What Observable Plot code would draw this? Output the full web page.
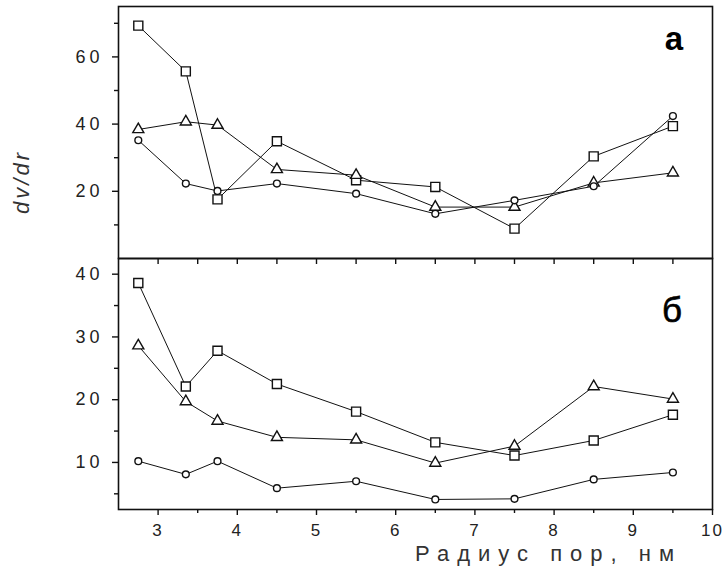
<!DOCTYPE html>
<html>
<head>
<meta charset="utf-8">
<script src="https://cdn.jsdelivr.net/npm/d3@7"></script>
<script src="https://cdn.jsdelivr.net/npm/@observablehq/plot@0.6"></script>
<style>
  html, body { margin: 0; padding: 0; background: #fff; overflow: hidden; }
  #wrap { position: relative; width: 723px; height: 577px; }
  #wrap svg { position: absolute; left: 0; }
</style>
</head>
<body>
<div id="wrap"></div>
<script>
// ---- data ----
const radius = [2.75, 3.35, 3.75, 4.5, 5.5, 6.5, 7.5, 8.5, 9.5];

const topSquares   = [69.3, 55.7, 17.6, 34.9, 23.3, 21.3, 8.9, 30.4, 39.4];
const topTriangles = [38.4, 40.7, 39.7, 26.5, 24.8, 15.3, 15.3, 22.5, 25.5];
const topCircles   = [35.2, 22.3, 20.1, 22.3, 19.3, 13.3, 17.3, 21.5, 42.4];

const botSquares   = [38.6, 22.1, 27.8, 22.5, 18.1, 13.2, 11.1, 13.5, 17.6];
const botTriangles = [28.6, 19.7, 16.6, 14.0, 13.6, 9.9, 12.6, 22.1, 20.1];
const botCircles   = [10.2, 8.1, 10.2, 5.9, 7.0, 4.1, 4.2, 7.3, 8.4];

const xMajorTicks = [3, 4, 5, 6, 7, 8, 9, 10];
const xMinorTicks = [3.5, 4.5, 5.5, 6.5, 7.5, 8.5, 9.5];
const xAllTicks = [3, 3.5, 4, 4.5, 5, 5.5, 6, 6.5, 7, 7.5, 8, 8.5, 9, 9.5];
const topYMajor = [20, 40, 60];
const topYMinor = [10, 30, 50, 70];
const botYMajor = [10, 20, 30, 40];
const botYMinor = [5, 15, 25, 35];

const yLabel = "dv/dr";
const xLabel = "Радиус пор, нм";
const topPanelLabel = "а";
const botPanelLabel = "б";

// ---- helpers ----
const rows = ys => radius.map((r, i) => ({x: r, y: ys[i]}));

function seriesMarks(sq, tr, ci) {
  const out = [];
  const defs = [[sq, "square", 5.1], [tr, "triangle", 4.1], [ci, "circle", 3.4]];
  for (const [ys] of defs) {
    out.push(Plot.line(rows(ys), {x: "x", y: "y", stroke: "#111", strokeWidth: 1}));
  }
  for (const [ys, sym, r] of defs) {
    out.push(Plot.dot(rows(ys), {x: "x", y: "y", symbol: sym, r, fill: "white", stroke: "#111", strokeWidth: 1.4}));
  }
  return out;
}

const baseStyle = {
  fontFamily: "'Liberation Sans', Arial, sans-serif",
  fontSize: "18px",
  color: "#222",
  background: "transparent",
  overflow: "visible",
  letterSpacing: "4px"
};

const wrap = document.getElementById("wrap");

// ---- top panel ----
const topPlot = Plot.plot({
  width: 723, height: 270,
  marginLeft: 118, marginRight: 11, marginTop: 6, marginBottom: 12,
  style: baseStyle,
  x: {domain: [2.5, 10], axis: null},
  y: {domain: [0, 75], axis: null},
  marks: [
    Plot.axisY({ticks: topYMajor, tickSize: 6, tickPadding: 9, label: null, stroke: "#111", strokeWidth: 1.4}),
    Plot.axisY({ticks: topYMinor, tickSize: 4, fill: "none", label: null, stroke: "#111", strokeWidth: 1.4}),
    Plot.axisX({ticks: xAllTicks, tickSize: 6, fill: "none", label: null, stroke: "#111", strokeWidth: 1.4}),
    ...seriesMarks(topSquares, topTriangles, topCircles),
    Plot.frame({stroke: "#111", strokeWidth: 1.6})
  ]
});
topPlot.style.top = "0px";
wrap.appendChild(topPlot);

// ---- bottom panel ----
const botPlot = Plot.plot({
  width: 723, height: 329,
  marginLeft: 118, marginRight: 11, marginTop: 10, marginBottom: 68,
  style: baseStyle,
  x: {domain: [2.5, 10], axis: null},
  y: {domain: [2.5, 42.5], axis: null},
  marks: [
    Plot.axisY({ticks: botYMajor, tickSize: 6, tickPadding: 9, label: null, stroke: "#111", strokeWidth: 1.4}),
    Plot.axisY({ticks: botYMinor, tickSize: 4, fill: "none", label: null, stroke: "#111", strokeWidth: 1.4}),
    Plot.axisX({ticks: xMajorTicks, tickSize: 6, tickPadding: 8, label: null, stroke: "#111", strokeWidth: 1.4}),
    Plot.axisX({ticks: xMinorTicks, tickSize: 4, fill: "none", label: null, stroke: "#111", strokeWidth: 1.4}),
    ...seriesMarks(botSquares, botTriangles, botCircles),
    Plot.frame({stroke: "#111", strokeWidth: 1.6})
  ]
});
botPlot.style.top = "248px";
wrap.appendChild(botPlot);

// x tick labels: slightly tighter spacing so "10" stays inside
d3.select(botPlot).selectAll('g[aria-label="x-axis tick label"] text')
  .style("letter-spacing", "2px")
  .style("font-size", "17px");

// ---- labels ----
const tsvg = d3.select(topPlot);
tsvg.append("text")
  .attr("transform", "translate(23,182) rotate(-90)")
  .attr("text-anchor", "middle")
  .attr("dominant-baseline", "middle")
  .style("font-style", "italic")
  .style("font-size", "22px")
  .style("letter-spacing", "3px")
  .attr("fill", "#333")
  .text(yLabel);
tsvg.append("text")
  .attr("x", 674).attr("y", 50)
  .attr("text-anchor", "middle")
  .style("font-size", "33px").style("font-weight", "bold").style("letter-spacing", "0px")
  .attr("fill", "#000")
  .text(topPanelLabel);

const bsvg = d3.select(botPlot);
bsvg.append("text")
  .attr("x", 672).attr("y", 322 - 248)
  .attr("text-anchor", "middle")
  .style("font-size", "35px").style("letter-spacing", "0px")
  .attr("fill", "#000").attr("stroke", "#000").attr("stroke-width", 0.6)
  .text(botPanelLabel);
bsvg.append("text")
  .attr("x", 415).attr("y", 561 - 248)
  .attr("text-anchor", "start")
  .style("font-size", "22px").style("letter-spacing", "8px")
  .attr("fill", "#333")
  .text(xLabel);
</script>
</body>
</html>
